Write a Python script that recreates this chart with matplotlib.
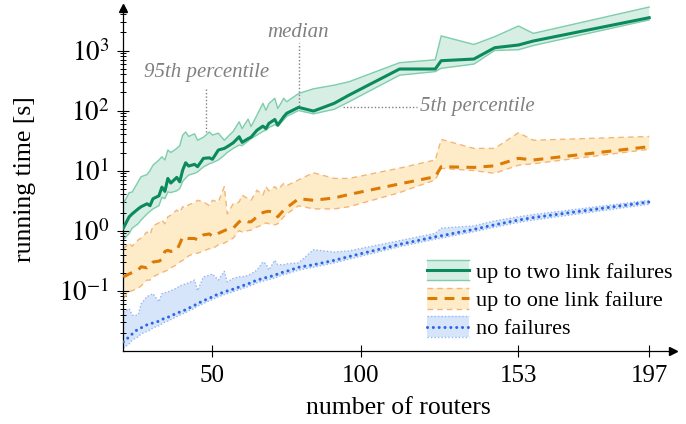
import matplotlib
matplotlib.use("Agg")
from matplotlib import pyplot as plt
from matplotlib.patches import Rectangle
from matplotlib.lines import Line2D
from matplotlib.legend_handler import HandlerBase
from matplotlib.ticker import FixedLocator, LogLocator, NullFormatter

plt.rcParams["font.family"] = "serif"
plt.rcParams["font.serif"] = ["Liberation Serif", "DejaVu Serif"]
plt.rcParams["mathtext.fontset"] = "stix"

# number of routers
routers = [20, 22, 23, 25, 26, 28, 29, 30, 32, 33, 34, 35, 36, 38, 39, 40, 41, 42, 44, 45,
           47, 49, 50, 52, 54, 55, 57, 59, 60, 62, 63, 65, 67, 68, 69, 71, 72, 74, 75, 79,
           84, 91, 96, 113, 125, 127, 138, 145, 153, 158, 197]

# up to two link failures: median, 5th and 95th percentile [s]
two_med = [1.1, 1.7, 1.9, 2.3, 2.5, 2.8, 2.6, 3.4, 3.8, 5.3, 4.5, 7.4, 6.2, 7.7, 6.5, 10.2, 13.5, 11.9, 12.7, 11.6,
           16.0, 16.3, 15.4, 22, 23.4, 25, 29, 36.6, 29.5, 34, 36, 47, 55, 50, 61, 71, 57, 79, 90, 113,
           98, 132, 181, 492, 492, 676, 721, 1113, 1235, 1440, 3520]
two_lo = [0.7, 0.9, 1.1, 1.3, 1.5, 1.9, 2.1, 2.3, 2.6, 3.6, 3.4, 4.4, 4.3, 4.6, 5.0, 6.6, 7.5, 8.4, 9.0, 9.5,
          11.5, 13, 13.5, 15, 18, 20, 23.4, 26.6, 26, 31, 34, 39, 45, 47, 52, 58, 55, 70, 80, 100,
          88, 105, 140, 388, 445, 505, 594, 1000, 1030, 1210, 3230]
two_hi = [2.8, 4.3, 4.4, 6.5, 7.9, 8.6, 10, 12.3, 15, 17, 15, 22, 20, 23.4, 26, 39, 44, 37, 41, 32,
          36, 44, 39, 42, 32, 36, 45, 65, 50, 72, 54, 84, 132, 101, 130, 160, 108, 160, 140, 192,
          230, 265, 302, 627, 700, 1750, 1260, 1700, 2560, 1930, 5300]

# up to one link failure
one_med = [0.17, 0.19, 0.2, 0.22, 0.25, 0.24, 0.26, 0.3, 0.31, 0.33, 0.45, 0.47, 0.45, 0.47, 0.6, 0.79, 0.75, 0.74, 0.74, 0.7,
           0.85, 0.88, 0.8, 0.9, 1.0, 1.05, 1.1, 1.4, 1.5, 1.4, 1.4, 1.7, 2.0, 2.06, 2.1, 2.0, 1.7, 2.2, 2.4, 3.4,
           3.2, 3.5, 4.0, 6.0, 7.9, 11.6, 11.3, 12, 16, 15, 25]
one_lo = [0.074, 0.096, 0.1, 0.11, 0.12, 0.15, 0.15, 0.17, 0.19, 0.2, 0.21, 0.22, 0.24, 0.27, 0.3, 0.32, 0.34, 0.38, 0.42, 0.42,
          0.46, 0.5, 0.5, 0.58, 0.62, 0.66, 0.75, 1.0, 0.95, 1.0, 1.02, 1.15, 1.25, 1.35, 1.3, 1.25, 1.3, 1.7, 1.9, 2.6,
          2.3, 2.3, 2.5, 4.3, 7.0, 10.9, 10, 9, 12.3, 13, 22.6]
one_hi = [0.5, 0.62, 0.55, 0.7, 0.75, 0.95, 0.85, 1.2, 1.35, 1.5, 1.3, 1.7, 1.8, 2.2, 2.0, 2.5, 2.4, 2.7, 2.9, 3.2,
          3.0, 2.6, 3.2, 3.0, 5.4, 1.9, 2.8, 3.0, 3.9, 3.4, 3.2, 4.7, 3.9, 5.4, 4.6, 5.4, 4.8, 6.1, 5.6, 7.0,
          9.2, 7.4, 7.4, 11, 15, 33, 23.4, 23.4, 42.7, 32, 37]

# no failures
no_med = [0.014, 0.017, 0.019, 0.023, 0.024, 0.027, 0.028, 0.029, 0.031, 0.033, 0.035, 0.036, 0.038, 0.042, 0.044,
          0.046, 0.048, 0.051, 0.057, 0.061, 0.068, 0.075, 0.079, 0.088, 0.095, 0.099, 0.106, 0.115, 0.12, 0.13,
          0.136, 0.15, 0.16, 0.165, 0.17, 0.18, 0.19, 0.205, 0.21, 0.245, 0.27, 0.32, 0.37, 0.59, 0.79, 0.82,
          1.05, 1.25, 1.5, 1.65, 3.0]
no_lo = [0.011, 0.013, 0.015, 0.017, 0.019, 0.021, 0.022, 0.024, 0.026, 0.028, 0.030, 0.031, 0.033, 0.037, 0.039,
         0.041, 0.043, 0.046, 0.051, 0.055, 0.061, 0.068, 0.071, 0.079, 0.086, 0.089, 0.096, 0.104, 0.108, 0.117,
         0.122, 0.135, 0.144, 0.149, 0.153, 0.162, 0.171, 0.185, 0.19, 0.22, 0.245, 0.29, 0.335, 0.54, 0.72, 0.75,
         0.96, 1.14, 1.37, 1.5, 2.75]
no_hi = [0.044, 0.05, 0.039, 0.039, 0.06, 0.08, 0.084, 0.089, 0.065, 0.089, 0.092, 0.095, 0.1, 0.11, 0.12,
         0.125, 0.13, 0.135, 0.15, 0.1, 0.17, 0.18, 0.19, 0.15, 0.21, 0.14, 0.16, 0.17, 0.17, 0.18,
         0.19, 0.22, 0.3, 0.28, 0.22, 0.32, 0.27, 0.27, 0.28, 0.29, 0.48, 0.44, 0.46, 0.68, 0.9, 1.1,
         1.2, 1.45, 1.7, 1.85, 3.2]

x_ticks = [50, 100, 153, 197]
y_ticks = [0.1, 1, 10, 100, 1000]
y_ticklabels = [r"$10^{-1}$", r"$10^{0}$", r"$10^{1}$", r"$10^{2}$", r"$10^{3}$"]
labels = ["up to two link failures", "up to one link failure", "no failures"]

GREEN, GREEN_F, GREEN_E = "#0b8a5d", "#d6eee4", "#7fcdac"
ORANGE, ORANGE_F, ORANGE_E = "#dc7a06", "#feecc9", "#f3b679"
BLUE, BLUE_F, BLUE_E = "#2a66e8", "#d7e5fa", "#94b6f2"

DASH = (0, (3.2, 2.4))
DOT = (0, (0.01, 1.9))
EDGE_DASH = (0, (4, 3))
EDGE_DOT = (0, (1, 1.5))


class Band:
    def __init__(self, fill, edge, edge_ls, color, ls, lw):
        self.fill, self.edge, self.edge_ls = fill, edge, edge_ls
        self.color, self.ls, self.lw = color, ls, lw


class BandHandler(HandlerBase):
    def create_artists(self, legend, orig, xd, yd, w, h, fontsize, trans):
        x0, y0 = -xd, -yd
        rect = Rectangle((x0, y0), w, h, facecolor=orig.fill, edgecolor="none", transform=trans)
        top = Line2D([x0, x0 + w], [y0 + h, y0 + h], color=orig.edge, lw=1.0, ls=orig.edge_ls, transform=trans)
        bot = Line2D([x0, x0 + w], [y0, y0], color=orig.edge, lw=1.0, ls=orig.edge_ls, transform=trans)
        mid = Line2D([x0, x0 + w], [y0 + h / 2, y0 + h / 2], color=orig.color, lw=orig.lw, ls=orig.ls,
                     dash_capstyle="round" if orig.ls == DOT else "butt", transform=trans)
        return [rect, top, bot, mid]


fig = plt.figure(figsize=(6.86, 4.24), dpi=100)
ax = fig.add_axes([0.1797, 0.1729, 0.8013, 0.8071])
ax.set_yscale("log")

# no failures
ax.fill_between(routers, no_lo, no_hi, facecolor=BLUE_F, edgecolor="none", zorder=1)
ax.plot(routers, no_hi, color=BLUE_E, lw=1.0, ls=EDGE_DOT, zorder=2)
ax.plot(routers, no_lo, color=BLUE_E, lw=1.0, ls=EDGE_DOT, zorder=2)
ax.plot(routers, no_med, color=BLUE, lw=2.2, ls=DOT, dash_capstyle="round", zorder=3)

# up to one link failure
ax.fill_between(routers, one_lo, one_hi, facecolor=ORANGE_F, edgecolor="none", zorder=1)
ax.plot(routers, one_hi, color=ORANGE_E, lw=1.0, ls=EDGE_DASH, zorder=2)
ax.plot(routers, one_lo, color=ORANGE_E, lw=1.0, ls=EDGE_DASH, zorder=2)
ax.plot(routers, one_med, color=ORANGE, lw=2.2, ls=DASH, zorder=3)

# up to two link failures
ax.fill_between(routers, two_lo, two_hi, facecolor=GREEN_F, edgecolor="none", zorder=1, clip_on=False)
ax.plot(routers, two_hi, color=GREEN_E, lw=1.0, zorder=2, clip_on=False)
ax.plot(routers, two_lo, color=GREEN_E, lw=1.0, zorder=2)
ax.plot(routers, two_med, color=GREEN, lw=2.2, zorder=3)

ax.set_xlim(20, 205)
ax.set_ylim(0.01, 10 ** 3.7)

ax.spines["top"].set_visible(False)
ax.spines["right"].set_visible(False)
ax.spines["left"].set_linewidth(0.9)
ax.spines["bottom"].set_linewidth(0.9)
ax.plot(1, 0, marker=">", color="black", ms=5.5, transform=ax.transAxes, clip_on=False, zorder=5)
ax.plot(0, 1, marker="^", color="black", ms=5.5, transform=ax.transAxes, clip_on=False, zorder=5)

ax.xaxis.set_major_locator(FixedLocator(x_ticks))
ax.set_xticklabels([str(t) for t in x_ticks])
ax.yaxis.set_major_locator(FixedLocator(y_ticks))
ax.set_yticklabels(y_ticklabels)
ax.yaxis.set_minor_locator(LogLocator(base=10, subs=range(2, 10)))
ax.yaxis.set_minor_formatter(NullFormatter())
ax.tick_params(axis="both", which="major", direction="inout", length=8, width=0.8, labelsize=18, pad=6)
ax.tick_params(axis="y", which="major", labelsize=19.5)
ax.tick_params(axis="y", which="minor", direction="inout", length=5, width=0.7)
ax.tick_params(axis="x", which="minor", bottom=False)

ax.set_xlabel("number of routers", fontsize=18.5)
ax.set_ylabel("running time [s]", fontsize=18.5)
ax.xaxis.set_label_coords(0.5, -0.135)
ax.yaxis.set_label_coords(-0.158, 0.5)

# percentile / median annotations
gray = "#808080"
ax.plot([48, 48], [44, 246], ls=(0, (1, 1.5)), color=gray, lw=1.0, zorder=4)
ax.text(47.9, 427, "95th percentile", ha="center", va="center", fontsize=15, style="italic", color=gray)
ax.plot([79, 79], [119, 1350], ls=(0, (1, 1.5)), color=gray, lw=1.0, zorder=4)
ax.text(78.8, 1958, "median", ha="center", va="center", fontsize=15, style="italic", color=gray)
ax.plot([94, 119], [113, 113], ls=(0, (1, 1.5)), color=gray, lw=1.0, zorder=4)
ax.text(119.9, 116, "5th percentile", ha="left", va="center", fontsize=15, style="italic", color=gray)

handles = [Band(GREEN_F, GREEN_E, "-", GREEN, "-", 2.2),
           Band(ORANGE_F, ORANGE_E, EDGE_DASH, ORANGE, DASH, 2.2),
           Band(BLUE_F, BLUE_E, EDGE_DOT, BLUE, DOT, 2.2)]
ax.legend(handles, labels, handler_map={Band: BandHandler()}, loc="upper left",
          bbox_to_anchor=(426.7 / 686, 1 - 260 / 424), bbox_transform=fig.transFigure,
          frameon=False, fontsize=16, borderpad=0, borderaxespad=0, handlelength=1.9,
          handleheight=1.04, handletextpad=0.3, labelspacing=0.24)

plt.savefig("out.png", dpi=100)
